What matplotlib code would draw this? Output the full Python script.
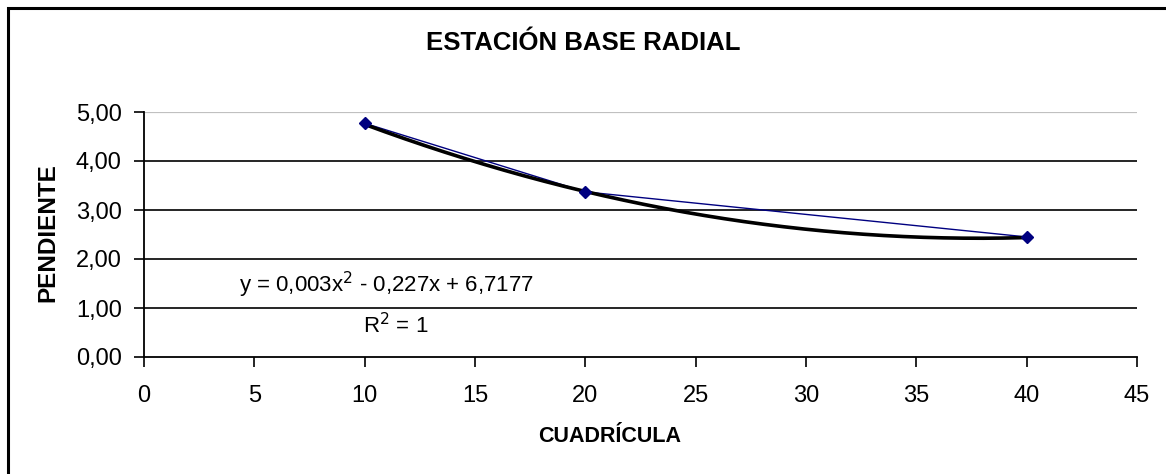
import numpy as np
import matplotlib
matplotlib.use("Agg")
import matplotlib.pyplot as plt
from matplotlib.patches import Rectangle

# datos
cuadricula = [10, 20, 40]
pendiente = [4.77, 3.37, 2.45]
coef_tendencia = [0.003, -0.227, 6.7177]   # y = 0,003x^2 - 0,227x + 6,7177
x_ticks = [0, 5, 10, 15, 20, 25, 30, 35, 40, 45]
y_ticks = [0, 1, 2, 3, 4, 5]

plt.rcParams['font.family'] = ['Liberation Sans', 'DejaVu Sans']

W, H = 1166, 474
fig = plt.figure(figsize=(W / 100, H / 100), dpi=100)
ax = fig.add_axes([144 / W, 1 - 357 / H, (1137 - 144) / W, (357 - 112) / H])

# marco del grafico
fig.patches.append(Rectangle((7.5 / W, -0.1), 1.2, 1 - 7.5 / H + 0.1,
                             transform=fig.transFigure, fill=False,
                             edgecolor='black', linewidth=2.2))

# cuadricula
for v in y_ticks[1:-1]:
    ax.axhline(v, color='black', linewidth=1.2, zorder=1)
ax.axhline(5, color='#c0c0c0', linewidth=1.6, zorder=1)

ax.plot(cuadricula, pendiente, color='#000080', linewidth=1.0, zorder=2)

xs = np.linspace(cuadricula[0], cuadricula[-1], 200)
ax.plot(xs, np.polyval(coef_tendencia, xs), color='black', linewidth=2.6, zorder=3)

ax.plot(cuadricula, pendiente, linestyle='none', marker='D', markersize=6.5,
        color='#000080', zorder=4)

ax.set_xlim(0, 45)
ax.set_ylim(0, 5)
ax.set_xticks(x_ticks)
ax.set_yticks(y_ticks)
ax.set_yticklabels([f"{v:.2f}".replace('.', ',') for v in y_ticks])
ax.tick_params(direction='out', length=7, width=1.2, labelsize=17)
ax.tick_params(axis='x', pad=13)
ax.tick_params(axis='y', pad=9)

for s in ['top', 'right']:
    ax.spines[s].set_visible(False)
for s in ['left', 'bottom']:
    ax.spines[s].set_linewidth(1.3)

fig.text(583 / W, 1 - 43 / H, 'ESTACIÓN BASE RADIAL', ha='center', va='center',
         fontsize=18.5, fontweight='bold')
fig.text(610 / W, 1 - 437 / H, 'CUADRÍCULA', ha='center', va='center',
         fontsize=15.5, fontweight='bold')
fig.text(48 / W, 1 - 233 / H, 'PENDIENTE', ha='center', va='center',
         rotation=90, fontsize=17.5, fontweight='bold')

fig.text(386 / W, 1 - 285 / H, 'y = 0,003x$^2$ - 0,227x + 6,7177', ha='center',
         va='center', fontsize=16)
fig.text(396 / W, 1 - 326 / H, 'R$^2$ = 1', ha='center', va='center', fontsize=16)

fig.savefig('out.png', dpi=100)
